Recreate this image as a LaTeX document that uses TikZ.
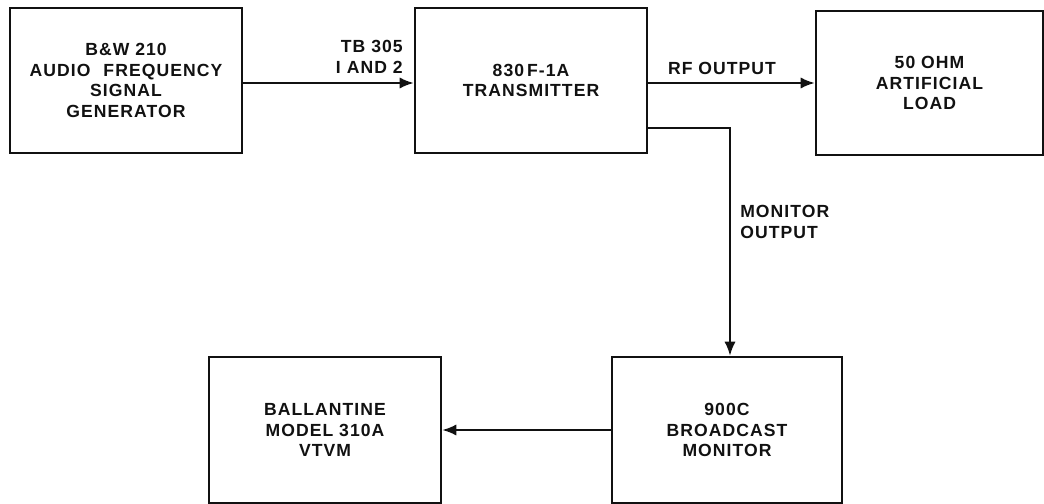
\documentclass[tikz,border=0pt]{standalone}
\usepackage{fontspec}
\setmainfont{Liberation Sans}[LetterSpace=6]
\usepackage{tikz}
\usetikzlibrary{arrows.meta, positioning, calc}
\definecolor{inkBlack}{HTML}{111111}

\begin{document}
\begin{tikzpicture}[
  x=0.025cm, y=-0.025cm,
  unit/.style 2 args={draw=inkBlack, line width=1.8pt, minimum width=#1, minimum height=#2,
               align=center, inner sep=0pt, text=inkBlack,
               font=\fontsize{12.5}{14.5}\selectfont\bfseries},
  lbl/.style={inner sep=0pt, text=inkBlack, font=\fontsize{12.5}{14.5}\selectfont\bfseries},
  wire/.style={draw=inkBlack, line width=1.4pt},
  feed/.style={wire, -{Latex[length=10pt,width=8pt]}},
]
  \useasboundingbox (0,0) rectangle (1044,504);

  \node[unit={5.8cm}{3.625cm}] (gen) at (126,80.5) {B\&W 210\\AUDIO\hspace{0.4em} FREQUENCY\\SIGNAL\\GENERATOR};
  \node[unit={5.8cm}{3.625cm}] (tx) at (531,80.5) {830\,F-1A\\TRANSMITTER};
  \node[unit={5.675cm}{3.6cm}] (load) at (929.5,83) {50 OHM\\ARTIFICIAL\\LOAD};
  \node[unit={5.75cm}{3.65cm}] (mon) at (727,430) {900C\\BROADCAST\\MONITOR};
  \node[unit={5.8cm}{3.65cm}] (vtvm) at (325,430) {BALLANTINE\\MODEL 310A\\VTVM};

  \coordinate (tap) at (730,128);
  \coordinate (lvl) at (0,83);

  \draw[feed] (gen.east |- lvl) -- (tx.west |- lvl);
  \draw[feed] (tx.east |- lvl) -- (load.west |- lvl);
  \draw[feed] (tx.east |- tap) -- (tap) -- (tap |- mon.north);
  \draw[feed] (mon.west) -- (vtvm.east);

  \node[lbl, align=right, anchor=east] (tb) at (403,57) {TB 305\\I AND 2};
  \node[lbl] (rf) at (722,68) {RF OUTPUT};
  \node[lbl, align=left, anchor=west] (mo) at (740,222) {MONITOR\\OUTPUT};
\end{tikzpicture}
\end{document}
